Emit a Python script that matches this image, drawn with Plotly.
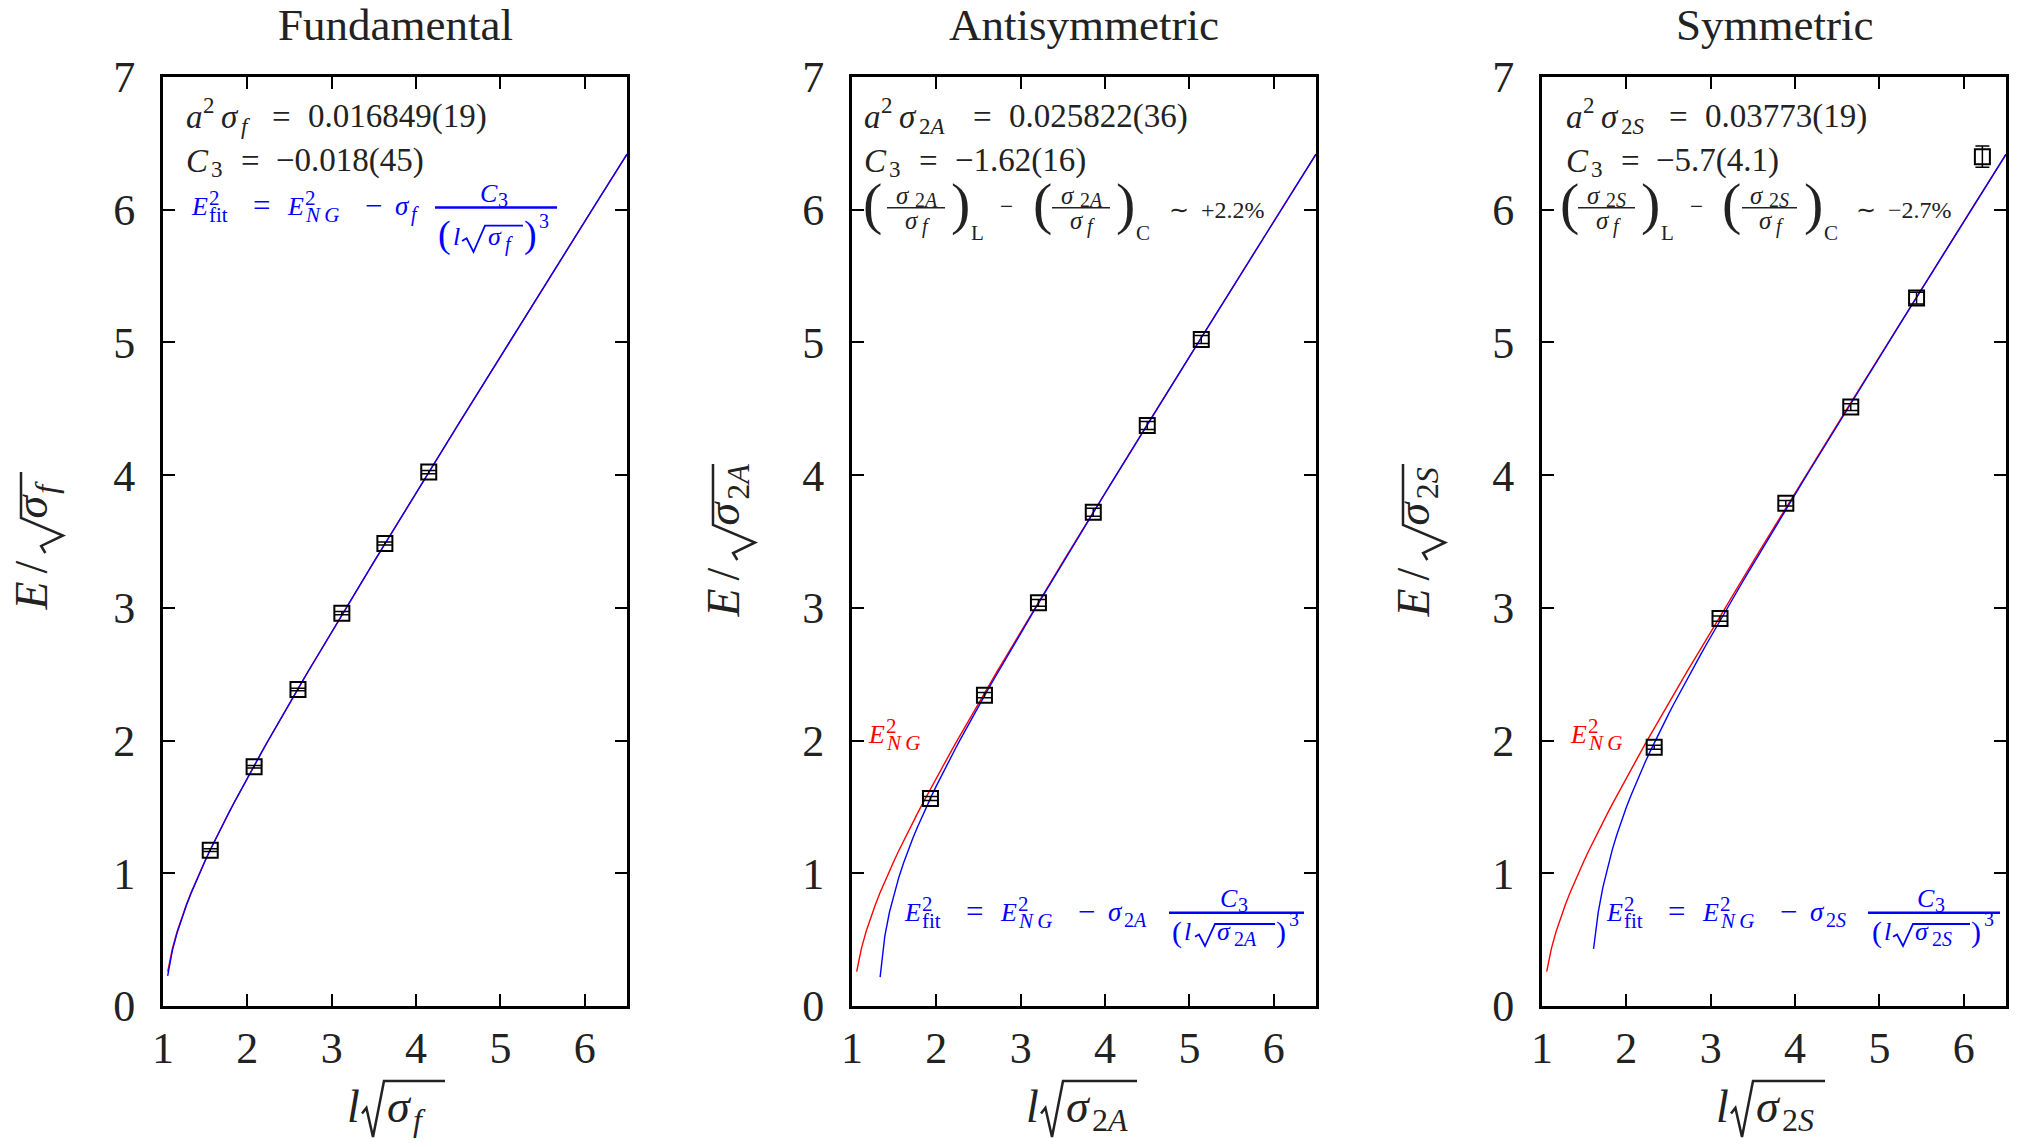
import numpy as np
import plotly.graph_objects as go

W, H = 2022, 1147
FONT = "Liberation Serif"
TXT = "#222222"
BLUE = "#0000ff"
RED = "#ff0000"

# ---------------- data ----------------
panel_titles = ["Fundamental", "Antisymmetric", "Symmetric"]

fund_x = [1.56, 2.08, 2.60, 3.12, 3.63, 4.15]
fund_y = [1.174, 1.803, 2.385, 2.960, 3.485, 4.023]
fund_err = [0.010, 0.010, 0.010, 0.012, 0.012, 0.012]

anti_x = [1.93, 2.57, 3.21, 3.86, 4.50, 5.14]
anti_y = [1.564, 2.342, 3.038, 3.721, 4.374, 5.022]
anti_err = [0.015, 0.020, 0.025, 0.030, 0.030, 0.030]

sym_x = [2.33, 3.11, 3.89, 4.66, 5.44, 6.22]
sym_y = [1.950, 2.919, 3.788, 4.513, 5.334, 6.400]
sym_err = [0.015, 0.020, 0.020, 0.025, 0.045, 0.080]

# fit parameters printed on the chart
fit_C3 = [-0.018, -1.62, -5.7]
sigma_text = ["0.016849(19)", "0.025822(36)", "0.03773(19)"]
C3_text = ["−0.018(45)", "−1.62(16)", "−5.7(4.1)"]
ratio_text = [None, "+2.2%", "−2.7%"]
sig_sub = ["<i>f</i>", "2<i>A</i>", "2<i>S</i>"]

x_ticks = [1, 2, 3, 4, 5, 6]
y_ticks = [0, 1, 2, 3, 4, 5, 6, 7]
x_range = [1, 6.5]
y_range = [0, 7]

x_samp = np.linspace(x_range[0], x_range[1], 100)


def ng_curve(x):
    r = x ** 2 - np.pi / 3
    return np.where(r > 0, np.sqrt(np.clip(r, 0, None)), np.nan)


def fit_curve(x, c3):
    r = x ** 2 - np.pi / 3 + c3 / x ** 3
    return np.where(r > 0, np.sqrt(np.clip(r, 0, None)), np.nan)


# ---------------- layout helpers ----------------
panel_left = [163, 852, 1542]
panel_w = 464
plot_top, plot_bot = 77, 1006

annotations = []
shapes = []
ASC = 0.3375  # (ascent - descent)/2 for Liberation Serif


def px(x):
    return x / W


def py(y):
    return 1 - y / H


def t(x, base, s, size, color=TXT, xa="left"):
    """text piece, given left (or center) x and baseline y in pixels"""
    annotations.append(dict(
        x=px(x), y=py(base - ASC * size), xref="paper", yref="paper", text=s,
        showarrow=False, xanchor=xa, yanchor="middle", borderpad=0,
        font=dict(family=FONT, size=size, color=color)))


def tr(base_x, cy, s, size, color=TXT):
    """rotated (-90) text piece, baseline at page x, centred at page y"""
    annotations.append(dict(
        x=px(base_x - ASC * size), y=py(cy), xref="paper", yref="paper", text=s,
        showarrow=False, xanchor="center", yanchor="middle", textangle=-90,
        borderpad=0, font=dict(family=FONT, size=size, color=color)))


def bar(x0, x1, y, color=TXT, w=2):
    shapes.append(dict(type="line", xref="paper", yref="paper",
                       x0=px(x0), x1=px(x1), y0=py(y), y1=py(y),
                       line=dict(color=color, width=w)))


def radical(left, wr, right, top, bottom, color=TXT, w=2, rot=False):
    h = bottom - top
    pts = [(left, bottom - 0.42 * h), (left + 0.2 * wr, bottom - 0.52 * h),
           (left + 0.5 * wr, bottom), (left + wr, top), (right, top)]
    if rot:
        pts = [(b, -a) for a, b in pts]
    path = "M " + " L ".join(f"{px(a):.5f},{py(b):.5f}" for a, b in pts)
    shapes.append(dict(type="path", xref="paper", yref="paper", path=path,
                       line=dict(color=color, width=w)))


fig = go.Figure()
datasets = [(fund_x, fund_y, fund_err), (anti_x, anti_y, anti_err), (sym_x, sym_y, sym_err)]

for i in range(3):
    xa = "x" if i == 0 else f"x{i+1}"
    ya = "y" if i == 0 else f"y{i+1}"
    dx, dy, de = datasets[i]
    fig.add_trace(go.Scatter(x=x_samp, y=ng_curve(x_samp), mode="lines",
                             line=dict(color=RED, width=1.4), xaxis=xa, yaxis=ya,
                             showlegend=False, hoverinfo="skip"))
    fig.add_trace(go.Scatter(x=x_samp, y=fit_curve(x_samp, fit_C3[i]), mode="lines",
                             line=dict(color=BLUE, width=1.4), xaxis=xa, yaxis=ya,
                             showlegend=False, hoverinfo="skip"))
    fig.add_trace(go.Scatter(x=dx, y=dy, mode="markers",
                             marker=dict(symbol="square-open", size=15, color="black",
                                         line=dict(width=2, color="black")),
                             error_y=dict(type="data", array=de, color="black",
                                          thickness=1.5, width=7),
                             xaxis=xa, yaxis=ya, showlegend=False))

axis_common = dict(showline=True, linecolor="black", linewidth=3, mirror="allticks",
                   ticks="inside", ticklen=12, tickwidth=2, tickcolor="black",
                   showgrid=False, zeroline=False, automargin=False,
                   tickfont=dict(family=FONT, size=44, color=TXT))

layout = dict(width=W, height=H, margin=dict(l=0, r=0, t=0, b=0, autoexpand=False),
              paper_bgcolor="white", plot_bgcolor="white", showlegend=False)

for i in range(3):
    xl = panel_left[i]
    xd = [xl / W, (xl + panel_w) / W]
    yd = [1 - plot_bot / H, 1 - plot_top / H]
    xk = "xaxis" if i == 0 else f"xaxis{i+1}"
    yk = "yaxis" if i == 0 else f"yaxis{i+1}"
    yanch = "y" if i == 0 else f"y{i+1}"
    xanch = "x" if i == 0 else f"x{i+1}"
    layout[xk] = dict(domain=xd, range=x_range, tickvals=x_ticks, anchor=yanch,
                      ticklabelstandoff=1, **axis_common)
    layout[yk] = dict(domain=yd, range=y_range, tickvals=y_ticks, anchor=xanch,
                      ticklabelstandoff=16, **axis_common)

fig.update_layout(**layout)

# ---------------- text ----------------
SIG = "<i>σ</i>"
for i in range(3):
    X0 = panel_left[i]
    sub = sig_sub[i]
    # panel title
    t(X0 + panel_w / 2, 40.5, panel_titles[i], 45, xa="center")

    # x-axis title  l sqrt(sigma)
    s0 = [346, 1025, 1715][i]
    t(s0, 1122, "<i>l</i>", 46)
    radical(s0 + 16, 22, s0 + [99, 112, 110][i], 1081, 1137, TXT, 2.5)
    t(s0 + 40, 1122, SIG, 46)
    t(s0 + 66, 1131, sub, 32)

    # y-axis title  E / sqrt(sigma)  (rotated)
    bx = [47, 739, 1429][i]
    e_c = [596, 603, 603][i]
    tr(bx, e_c, "<i>E</i>", 46)
    tr(bx, e_c - 29, "/", 46)
    rs = e_c - 43
    rend = [472, 464, 464][i]
    radical(-rs, 35, -rend, bx - 26, bx + 16, TXT, 2.5, rot=True)
    sc = rs - 47
    tr(bx, sc, SIG, 46)
    sub_half = [4.5, 17.5, 16][i]
    tr(bx + 9, sc - 14 - sub_half, sub, 32)

    # parameter lines
    tx = [185, 863, 1565][i]
    t(tx, 128, "<i>a</i>", 33)
    t(tx + 17, 113, "2", 23)
    t(tx + 35, 128, SIG, 33)
    t(tx + 55, 134, sub, 23)
    eqc = [281, 982, 1678][i]
    t(eqc, 128, "=", 33, xa="center")
    t(eqc + 26, 128, sigma_text[i], 33)
    t(tx, 172, "<i>C</i>", 33)
    t(tx + 25, 177, "3", 23)
    eq2 = [250, 928.5, 1630][i]
    t(eq2, 172, "=", 33, xa="center")
    t(eq2 + 25, 172, C3_text[i], 33)


def e_sq(x, base, sub, color):
    t(x, base, "<i>E</i>", 26, color)
    t(x + 18, base - 10, "2", 21, color)
    t(x + 18, base + 7, sub, 21, color)


NG = "<i>N\u2009G</i>"


def formula(x0, base, sub, barx0, barx1, bary, numx, den, color=BLUE):
    e_sq(x0 + 3, base, "fit", color)
    t(x0 + 74, base + 1, "=", 31, color, xa="center")
    e_sq(x0 + 99, base, NG, color)
    t(x0 + 186, base + 1, "−", 31, color, xa="center")
    t(x0 + 207, base, SIG, 27, color)
    t(x0 + 223, base + 6, sub, 20, color)
    bar(barx0, barx1, bary, color, 2.5)
    t(numx, bary - 5, "<i>C</i>", 26, color)
    t(numx + 18, bary - 1, "3", 20, color)
    (pl, ps, pb, ll, rl, rw, rr, rt, rb, sl, subl, rp, three) = den
    t(pl, pb, "(", ps, color)
    t(ll, pb - 2, "<i>l</i>", 26, color)
    radical(rl, rw, rr, rt, rb, color, 1.8)
    t(sl, pb - 2, SIG, 26, color)
    t(subl, pb + 4, sub, 20, color)
    t(rp, pb, ")", ps, color)
    t(three, rt + 2, "3", 20, color)


formula(187, 215, sig_sub[0], 435, 557, 207.5, 479,
        (437, 38, 247, 452, 462, 23, 523, 225.7, 252, 487, 504, 523, 538))
formula(900, 921, sig_sub[1], 1169, 1304, 912.7, 1219,
        (1171, 30, 942, 1183, 1195, 20, 1275, 924, 946, 1216, 1233, 1275, 1288))
formula(1602, 921, sig_sub[2], 1868, 2000, 912.7, 1916,
        (1871, 30, 942, 1883, 1893, 20, 1970, 924, 946, 1914, 1931, 1970, 1983))

# E_NG labels
for ex in [867, 1569]:
    e_sq(ex, 743, NG, RED)

# ratio lines in panels 2 and 3
for i, pos in zip([1, 2], [
        dict(p1=862, b1=(887, 945), p2=950, L=970, m=1006,
             p3=1032, b2=(1052, 1110), p4=1115, C=1135, r=1168),
        dict(p1=1559, b1=(1578, 1635), p2=1640, L=1660, m=1696,
             p3=1721, b2=(1742, 1797), p4=1803, C=1823, r=1855)]):
    sub = sig_sub[i]
    for pl, b, pr in [(pos["p1"], pos["b1"], pos["p2"]), (pos["p3"], pos["b2"], pos["p4"])]:
        bc = (b[0] + b[1]) / 2
        t(pl, 223, "(", 58)
        t(bc - 21, 204, SIG, 25)
        t(bc - 2, 207, sub, 20)
        bar(b[0], b[1], 207.7, TXT, 1.5)
        t(bc - 12, 229, SIG, 25)
        t(bc + 5, 233, "<i>f</i>", 20)
        t(pr, 223, ")", 58)
    t(pos["L"], 240, "L", 21)
    t(pos["m"], 214, "−", 23, xa="center")
    t(pos["C"], 240, "C", 21)
    t(pos["r"], 218, "∼\u2002" + ratio_text[i], 24)

fig.update_layout(annotations=annotations, shapes=shapes)
fig.write_html("out.html", config={"displayModeBar": False},
               post_script="document.body.style.margin='0px';document.body.style.overflow='hidden';")
